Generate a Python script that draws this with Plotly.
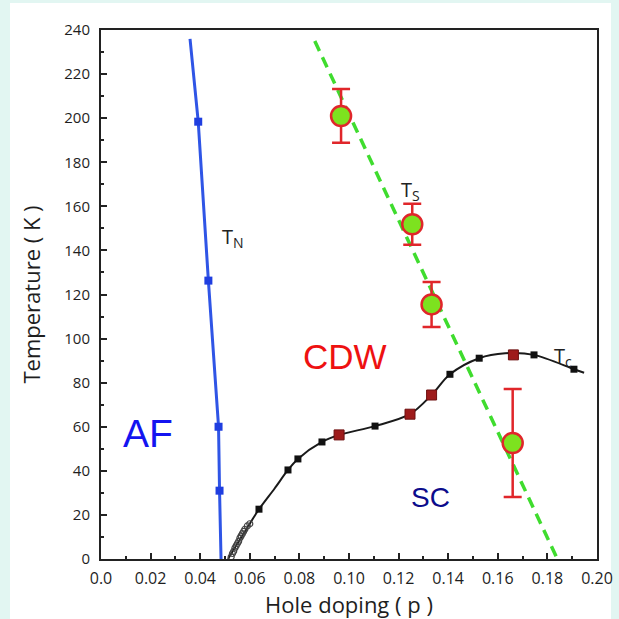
import plotly.graph_objects as go

# ---------------- data ----------------
# Neel temperature T_N (blue)
tn_line_p = [0.0359, 0.0392, 0.0433, 0.0474, 0.0478, 0.0484]
tn_line_T = [236.0, 198.4, 126.3, 60.0, 31.0, 0.0]
tn_pts_p = [0.0392, 0.0433, 0.0474, 0.0478]
tn_pts_T = [198.4, 126.3, 60.0, 31.0]

# superconducting Tc: fitted curve
tc_fit_p = [0.0512, 0.0550, 0.0600, 0.0637, 0.0700, 0.0754, 0.0794, 0.0891, 0.0960,
            0.1105, 0.1246, 0.1333, 0.1407, 0.1525, 0.1630, 0.1746, 0.1907, 0.1948]
tc_fit_T = [0.0, 7.0, 16.0, 22.6, 32.0, 40.4, 45.4, 53.1, 56.3,
            60.3, 65.7, 74.4, 83.8, 91.1, 93.3, 92.6, 86.1, 84.5]
# Tc black squares
tc_black_p = [0.0637, 0.0754, 0.0794, 0.0891, 0.1105, 0.1407, 0.1525, 0.1746, 0.1907]
tc_black_T = [22.6, 40.4, 45.4, 53.1, 60.3, 83.8, 91.1, 92.6, 86.1]
# Tc dark red squares
tc_red_p = [0.0960, 0.1246, 0.1333, 0.1663]
tc_red_T = [56.3, 65.7, 74.4, 92.6]
# Tc open circles at low doping
tc_open_p = [0.0525, 0.0530, 0.0535, 0.0540, 0.0545, 0.0550, 0.0555, 0.0560,
             0.0565, 0.0570, 0.0575, 0.0580, 0.0590, 0.0600]
tc_open_T = [1.0, 2.5, 3.5, 5.0, 6.0, 7.0, 8.0, 9.5, 10.5, 11.5, 12.5, 13.5, 15.0, 16.0]

# CDW onset Ts with error bars
ts_p = [0.0968, 0.1255, 0.1333, 0.1660]
ts_T = [201.0, 151.9, 115.5, 52.6]
ts_err = [12.2, 9.3, 10.2, 24.5]
# guide line for Ts (green dashed)
ts_line_p = [0.0862, 0.1840]
ts_line_T = [235.0, 0.0]

x_ticks = [0.0, 0.02, 0.04, 0.06, 0.08, 0.10, 0.12, 0.14, 0.16, 0.18, 0.20]
x_ticktext = ["0.0", "0.02", "0.04", "0.06", "0.08", "0.10", "0.12", "0.14", "0.16", "0.18", "0.20"]
y_ticks = [0, 20, 40, 60, 80, 100, 120, 140, 160, 180, 200, 220, 240]

# ---------------- figure ----------------
W, H = 619, 619
ml, mr, mt, mb = 101, 22, 30, 60
pw, ph = W - ml - mr, H - mt - mb

fig = go.Figure()

fig.add_trace(go.Scatter(x=ts_line_p, y=ts_line_T, mode="lines",
                         line=dict(color="#3fdc2e", width=3.5, dash="11px,7px"),
                         hoverinfo="skip"))
fig.add_trace(go.Scatter(x=tn_line_p, y=tn_line_T, mode="lines",
                         line=dict(color="#2f55e6", width=3), hoverinfo="skip"))
fig.add_trace(go.Scatter(x=tn_pts_p, y=tn_pts_T, mode="markers",
                         marker=dict(symbol="square", size=8, color="#1f3ee0")))
fig.add_trace(go.Scatter(x=tc_fit_p, y=tc_fit_T, mode="lines",
                         line=dict(color="#1a1a1a", width=2, shape="spline", smoothing=0.9),
                         hoverinfo="skip"))
fig.add_trace(go.Scatter(x=tc_open_p, y=tc_open_T, mode="markers",
                         marker=dict(symbol="circle-open", size=6, color="#444444",
                                     line=dict(width=1.2))))
fig.add_trace(go.Scatter(x=tc_black_p, y=tc_black_T, mode="markers",
                         marker=dict(symbol="square", size=7, color="#111111")))
fig.add_trace(go.Scatter(x=tc_red_p, y=tc_red_T, mode="markers",
                         marker=dict(symbol="square", size=10, color="#9e1b1b",
                                     line=dict(color="#6e1010", width=1))))
fig.add_trace(go.Scatter(x=ts_p, y=ts_T, mode="markers",
                         error_y=dict(type="data", array=ts_err, visible=True,
                                      color="#e0262a", thickness=2.5, width=9),
                         marker=dict(symbol="circle", size=20, color="#7de21f",
                                     line=dict(color="#e0262a", width=2.5))))

font_txt = "Liberation Sans, Arial, sans-serif"
font_ax = "Open Sans, Noto Sans, sans-serif"

annotations = [
    dict(x=0.019, y=57, text="AF", font=dict(family=font_txt, size=39, color="#1414f0")),
    dict(x=0.0984, y=92, text="CDW", font=dict(family=font_txt, size=35, color="#ee1111")),
    dict(x=0.1327, y=28, text="SC", font=dict(family=font_txt, size=28, color="#0c0c8c")),
    dict(x=0.0532, y=146, text="T<sub>N</sub>", font=dict(family=font_ax, size=20, color="#222222")),
    dict(x=0.1246, y=167, text="T<sub>S</sub>", font=dict(family=font_ax, size=20, color="#222222")),
    dict(x=0.1863, y=92, text="T<sub>c</sub>", font=dict(family=font_ax, size=20, color="#222222")),
]
for a in annotations:
    a.update(xref="x", yref="y", showarrow=False)

# white panel inside the mint page border
shapes = [dict(type="rect", xref="paper", yref="paper", layer="below",
               x0=(10 - ml) / pw, x1=(611 - ml) / pw,
               y0=-(mb + 5) / ph, y1=(H - mb - 3) / ph,
               fillcolor="white", line=dict(width=0))]

fig.update_layout(
    width=W, height=H,
    margin=dict(l=ml, r=mr, t=mt, b=mb, autoexpand=False),
    paper_bgcolor="#e2f6f2", plot_bgcolor="white",
    showlegend=False,
    annotations=annotations, shapes=shapes,
    font=dict(family=font_ax, color="#1e1e1e"),
)
fig.update_xaxes(
    range=[0, 0.20], tickvals=x_ticks, ticktext=x_ticktext,
    showgrid=False, zeroline=False, showline=True, mirror=True,
    linecolor="#222222", linewidth=2,
    ticks="inside", ticklen=6, tickwidth=1.5, tickcolor="#222222",
    ticklabelstandoff=4,
    minor=dict(dtick=0.01, ticks="inside", ticklen=3, tickcolor="#222222", showgrid=False),
    tickfont=dict(size=16, color="#1e1e1e"),
    title=dict(text="Hole doping ( p )", font=dict(size=22, color="#1e1e1e"), standoff=8),
)
fig.update_yaxes(
    range=[0, 240], tickvals=y_ticks,
    showgrid=False, zeroline=False, showline=True, mirror=True,
    linecolor="#222222", linewidth=2,
    ticks="inside", ticklen=6, tickwidth=1.5, tickcolor="#222222",
    ticklabelstandoff=6,
    minor=dict(dtick=10, ticks="inside", ticklen=3, tickcolor="#222222", showgrid=False),
    tickfont=dict(size=15, color="#1e1e1e"),
    title=dict(text="Temperature ( K )", font=dict(size=22, color="#1e1e1e"), standoff=18),
)

fig.write_html("out.html", config={"displayModeBar": False},
               post_script="document.body.style.margin='0';")
